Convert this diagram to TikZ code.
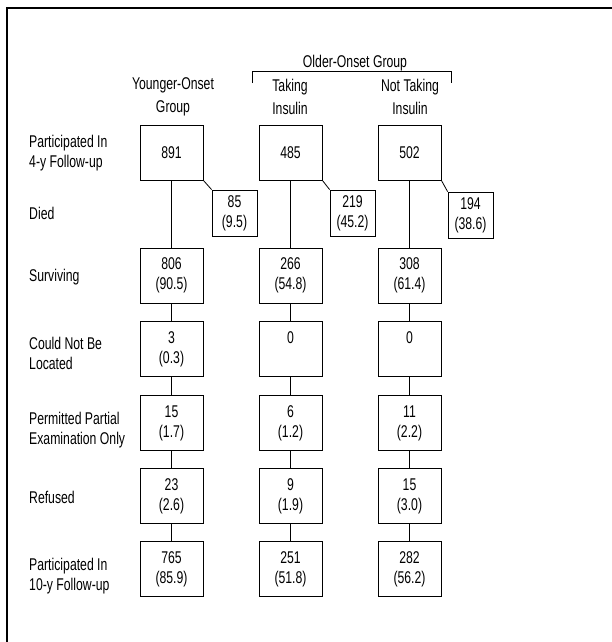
\documentclass[tikz,border=0pt]{standalone}
\usepackage{fontspec}
\setmainfont{Liberation Sans}[FakeStretch=0.72]
\usepackage{tikz}

\begin{document}
\begin{tikzpicture}[x=1pt, y=-1pt, font=\fontsize{17}{20}\selectfont,
  box/.style={draw, line width=0.8pt, minimum width=63, minimum height=55, align=center, inner sep=0pt},
  diedbox/.style={box, minimum width=45, minimum height=46},
  rowlabel/.style={anchor=west, align=left, inner sep=0pt},
  header/.style={align=center, font=\fontsize{17}{22.5}\selectfont}]
  \useasboundingbox (0,0) rectangle (612,642);
  \draw[line width=1.5pt] (612,8) -- (7,8) -- (7,642);
  % headers
  \node (older) at (355,63) {Older-Onset Group};
  \draw[line width=0.8pt] (252,83) -- (252,71) -- (451,71) -- (451,83);
  \node[header] (hy) at (173,97) {Younger-Onset\\Group};
  \node[header] (ht) at (290,97) {Taking\\Insulin};
  \node[header] (hn) at (410,97) {Not Taking\\Insulin};
  % row labels
  \node[rowlabel] (l1) at (29,153) {Participated In\\4-y Follow-up};
  \node[rowlabel] (l2) at (29,213) {Died};
  \node[rowlabel] (l3) at (29,277) {Surviving};
  \node[rowlabel] (l4) at (29,353) {Could Not Be\\Located};
  \node[rowlabel] (l5) at (29,430) {Permitted Partial\\Examination Only};
  \node[rowlabel] (l6) at (29,497) {Refused};
  \node[rowlabel] (l7) at (29,576) {Participated In\\10-y Follow-up};
  % younger-onset
  \node[box] (y1) at (171.5,152.5) {891};
  \node[diedbox] (y2) at (234.5,213) {85\\(9.5)};
  \node[box] (y3) at (171.5,275.5) {806\\(90.5)};
  \node[box] (y4) at (171.5,349) {3\\(0.3)};
  \node[box] (y5) at (171.5,423) {15\\(1.7)};
  \node[box] (y6) at (171.5,496) {23\\(2.6)};
  \node[box] (y7) at (171.5,569) {765\\(85.9)};
  % taking insulin
  \node[box] (t1) at (290.5,152.5) {485};
  \node[diedbox] (t2) at (352.5,213) {219\\(45.2)};
  \node[box] (t3) at (290.5,275.5) {266\\(54.8)};
  \node[box] (t4) at (290.5,349) {0\\\phantom{(0.0)}};
  \node[box] (t5) at (290.5,423) {6\\(1.2)};
  \node[box] (t6) at (290.5,496) {9\\(1.9)};
  \node[box] (t7) at (290.5,569) {251\\(51.8)};
  % not taking insulin
  \node[box] (n1) at (409.5,152.5) {502};
  \node[diedbox] (n2) at (470.5,215) {194\\(38.6)};
  \node[box] (n3) at (409.5,275.5) {308\\(61.4)};
  \node[box] (n4) at (409.5,349) {0\\\phantom{(0.0)}};
  \node[box] (n5) at (409.5,423) {11\\(2.2)};
  \node[box] (n6) at (409.5,496) {15\\(3.0)};
  \node[box] (n7) at (409.5,569) {282\\(56.2)};
  \foreach \c in {y,t,n} {
    \draw[line width=0.8pt] (\c1) -- (\c3);
    \draw[line width=0.8pt] (\c1.south east) -- (\c2.north west);
    \foreach \i/\j in {3/4,4/5,5/6,6/7}
      \draw[line width=0.8pt] (\c\i) -- (\c\j);
  }
\end{tikzpicture}
\end{document}
